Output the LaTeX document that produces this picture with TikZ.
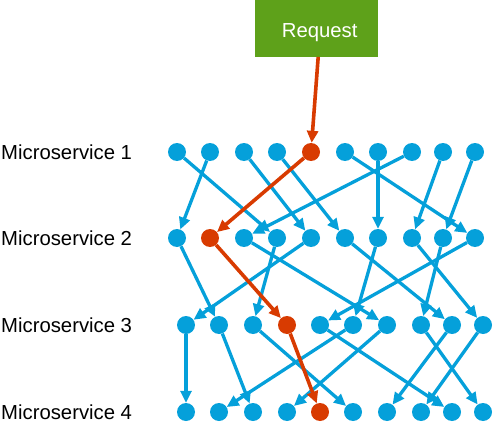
\documentclass[tikz,border=0pt]{standalone}
\usepackage{fontspec}
\setmainfont{Liberation Sans}
\usetikzlibrary{arrows.meta}
\definecolor{msblue}{RGB}{5,160,218}
\definecolor{msred}{RGB}{216,59,1}
\definecolor{msgreen}{RGB}{94,161,26}
\tikzset{
  dotc/.style={circle, fill=#1, minimum size=18pt, inner sep=0pt},
  link/.style={draw=msblue, line width=3.3pt, -{Triangle[length=12pt,width=11pt]}},
  redlink/.style={draw=msred, line width=3.6pt, -{Triangle[length=12pt,width=11pt]}},
  lbl/.style={anchor=west, inner sep=0pt, font=\fontsize{20.3}{24}\selectfont},
  reqbox/.style={fill=msgreen, text=white, minimum width=123.3pt, minimum height=56.7pt, inner sep=0pt,
                 text height=20pt, text depth=1.6pt, font=\fontsize{20.3}{24}\selectfont},
}
\begin{document}
\begin{tikzpicture}[x=1pt, y=-1pt]
\useasboundingbox (0,0) rectangle (493,428);
% request
\node[reqbox] (req) at (316.7,28.35) {\hspace*{6pt}Request};
% labels
\node[lbl] (l1) at (1,152) {Microservice 1};
\node[lbl] (l2) at (1,238) {Microservice 2};
\node[lbl] (l3) at (1,325) {Microservice 3};
\node[lbl] (l4) at (1,412) {Microservice 4};
% dots
\foreach \x [count=\j] in {177,210,244,277,311,345,378,412,443,475} {
  \ifnum\j=5 \def\c{msred}\else\def\c{msblue}\fi
  \node[dotc=\c] (a\j) at (\x,152) {};
}
\foreach \x [count=\j] in {177,210,244,277,311,345,378,412,443,475} {
  \ifnum\j=2 \def\c{msred}\else\def\c{msblue}\fi
  \node[dotc=\c] (b\j) at (\x,238) {};
}
\foreach \x [count=\j] in {186,219,253,287,320,353,387,421,452,483} {
  \ifnum\j=4 \def\c{msred}\else\def\c{msblue}\fi
  \node[dotc=\c] (c\j) at (\x,325) {};
}
\foreach \x [count=\j] in {186,219,253,287,320,353,387,421,452,483} {
  \ifnum\j=5 \def\c{msred}\else\def\c{msblue}\fi
  \node[dotc=\c] (d\j) at (\x,412) {};
}
% blue links
\foreach \s/\t in {a2/b1,a1/b4,a3/b5,a4/b6,a6/b10,a7/b7,a8/b3,a9/b8,a10/b9,
                   b1/c2,b3/c7,b4/c3,b5/c1,b6/c9,b7/c6,b8/c10,b9/c8,b10/c5,
                   c1/d1,c2/d3,c3/d6,c5/d9,c6/d2,c7/d4,c8/d10,c9/d7,c10/d8} {
  \draw[link] (\s) -- (\t);
}
% red path
\coordinate (rq) at ([xshift=1.5pt]req.south);
\draw[redlink] (rq) -- (a5);
\draw[redlink] (a5) -- (b2);
\draw[redlink] (b2) -- (c4);
\draw[redlink] (c4) -- (d5);
\end{tikzpicture}
\end{document}
